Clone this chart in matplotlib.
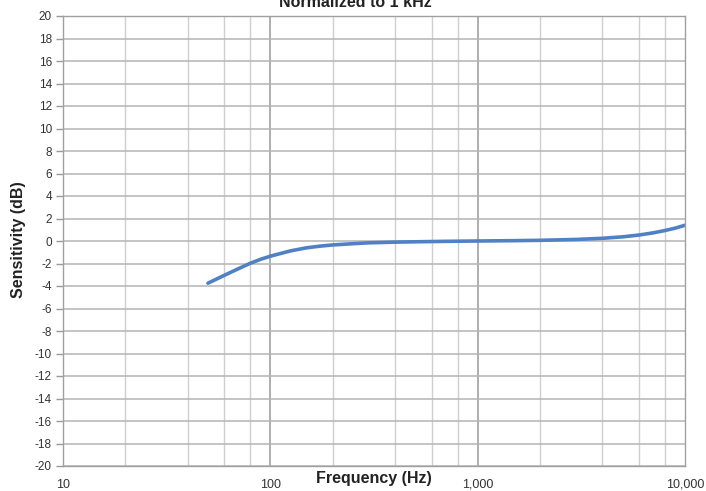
import matplotlib.pyplot as plt
from matplotlib.ticker import FixedLocator, FixedFormatter

# frequency response
freq = [50, 60, 70, 80, 90, 100, 125, 150, 175, 200, 250, 300, 400, 500, 700,
        1000, 1500, 2000, 3000, 4000, 5000, 6000, 7000, 8000, 9000, 10000]
sens = [-3.75, -3.05, -2.47, -1.98, -1.62, -1.35, -0.88, -0.6, -0.45, -0.35,
        -0.24, -0.16, -0.1, -0.07, -0.03, 0.0, 0.03, 0.06, 0.14, 0.24, 0.37,
        0.53, 0.72, 0.93, 1.15, 1.4]

x_ticks = [10, 100, 1000, 10000]
x_tick_labels = ["10", "100", "1,000", "10,000"]
y_ticks = list(range(-20, 21, 2))

plt.rcParams["font.family"] = ["Liberation Sans", "DejaVu Sans"]
plt.rcParams["axes.unicode_minus"] = False

fig = plt.figure(figsize=(7.06, 4.91), dpi=100)
ax = fig.add_axes([63 / 706, 1 - 466 / 491, 622 / 706, 450 / 491])

ax.plot(freq, sens, color="#4f81c4", linewidth=2.6, solid_capstyle="round",
        solid_joinstyle="round")

ax.set_xscale("log")
ax.set_xlim(10, 10000)
ax.set_ylim(-20, 20)

# grid: 2,4,6,8 per decade plus decade lines
minor = [m * d for d in (10, 100, 1000) for m in (2, 4, 6, 8)]
for xv in minor:
    ax.axvline(xv, color="#cfcfcf", linewidth=1.0, zorder=0)
for xv in (100, 1000):
    ax.axvline(xv, color="#a8a8a8", linewidth=1.3, zorder=0)
for yv in y_ticks:
    ax.axhline(yv, color="#b4b4b4", linewidth=1.1, zorder=0)

ax.xaxis.set_major_locator(FixedLocator(x_ticks))
ax.xaxis.set_major_formatter(FixedFormatter(x_tick_labels))
ax.xaxis.set_minor_locator(FixedLocator([]))
ax.set_yticks(y_ticks)
ax.tick_params(axis="x", length=0, pad=9, labelsize=9, labelcolor="#333333")
ax.tick_params(axis="y", length=5, width=1, color="#999999", pad=3,
               labelsize=8.5, labelcolor="#333333")

for s in ax.spines.values():
    s.set_color("#a0a0a0")
    s.set_linewidth(1.0)

fig.text(374 / 706, 1 - 479 / 491, "Frequency (Hz)", ha="center",
         va="center", fontsize=11.5, fontweight="bold", color="#222222")
fig.text(19 / 706, 1 - 240 / 491, "Sensitivity (dB)", rotation=90,
         ha="center", va="center", fontsize=11.5, fontweight="bold",
         color="#222222")
# title is clipped at the top edge in the source image
fig.text(355 / 706, 1 - 7 / 491, "Normalized to 1 kHz", ha="center",
         va="baseline", fontsize=11.5, fontweight="bold", color="#222222")

fig.savefig("out.png", dpi=100)
